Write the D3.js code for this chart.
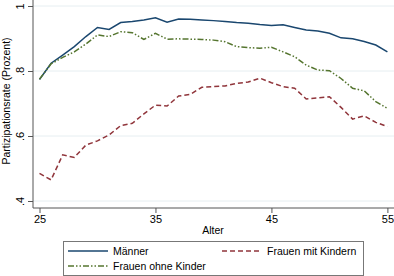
<!DOCTYPE html>
<html>
<head>
<meta charset="utf-8">
<script src="https://cdn.jsdelivr.net/npm/d3@7"></script>
<style>
  body { margin: 0; background: #fff; }
  svg { display: block; font-family: "Liberation Sans", Arial, sans-serif; }
</style>
</head>
<body>
<svg id="chart" width="394" height="276"></svg>
<script>
const ages = d3.range(25, 56);
const maenner = [0.774, 0.824, 0.849, 0.875, 0.906, 0.934, 0.928, 0.949, 0.952, 0.957, 0.964,
  0.950, 0.960, 0.959, 0.957, 0.955, 0.952, 0.949, 0.947, 0.943, 0.940, 0.942, 0.934, 0.926,
  0.923, 0.916, 0.902, 0.899, 0.891, 0.880, 0.859];
const frauenMitKindern = [0.485, 0.465, 0.542, 0.534, 0.572, 0.585, 0.603, 0.632, 0.639, 0.668,
  0.695, 0.692, 0.723, 0.728, 0.750, 0.752, 0.754, 0.762, 0.766, 0.778, 0.764, 0.752, 0.747,
  0.714, 0.717, 0.721, 0.688, 0.652, 0.662, 0.642, 0.629];
const frauenOhneKinder = [0.775, 0.822, 0.842, 0.859, 0.883, 0.911, 0.906, 0.921, 0.918, 0.897,
  0.916, 0.898, 0.899, 0.898, 0.897, 0.895, 0.890, 0.875, 0.872, 0.870, 0.873, 0.859, 0.844,
  0.818, 0.803, 0.801, 0.777, 0.747, 0.739, 0.706, 0.685];
const xTicks = [25, 35, 45, 55];
const yTicks = [0.4, 0.6, 0.8, 1.0];
const yTickLabels = [".4", ".6", ".8", "1"];
const seriesNames = ["Männer", "Frauen mit Kindern", "Frauen ohne Kinder"];

const colors = ["#1a476f", "#90353b", "#55752f"];
const dashes = [null, "5,3", "6,2,1.5,2,1.5,2"];

const svg = d3.select("#chart");
const x = d3.scaleLinear().domain([25, 55]).range([39.5, 387.4]);
const y = d3.scaleLinear().domain([0.4, 1.0]).range([201, 6]);

const axisX = 33, axisY = 208;

// gridlines
svg.append("g").selectAll("line").data(yTicks).join("line")
  .attr("x1", axisX).attr("x2", 394)
  .attr("y1", d => y(d)).attr("y2", d => y(d))
  .attr("stroke", "#e6eef1").attr("stroke-width", 1);

// y axis
const yAxis = svg.append("g").attr("transform", `translate(${axisX},0)`)
  .call(d3.axisLeft(y).tickValues(yTicks).tickSize(5).tickFormat((d, i) => yTickLabels[i]));
yAxis.select(".domain").attr("d", `M0,0V${axisY}`).attr("stroke", "#555");
yAxis.selectAll(".tick line").attr("stroke", "#555");
yAxis.selectAll(".tick text")
  .attr("x", 0).attr("dy", 0)
  .attr("transform", "translate(-9,0) rotate(-90)")
  .attr("text-anchor", "middle")
  .attr("font-size", 11).attr("fill", "#000")
  .attr("font-family", "Liberation Sans, Arial, sans-serif");

// x axis
const xAxis = svg.append("g").attr("transform", `translate(0,${axisY})`)
  .call(d3.axisBottom(x).tickValues(xTicks).tickSize(5).tickFormat(d3.format("d")));
xAxis.select(".domain").attr("d", `M${axisX},0H394`).attr("stroke", "#555");
xAxis.selectAll(".tick line").attr("stroke", "#555");
xAxis.selectAll(".tick text").attr("y", 7).attr("dy", "0.71em")
  .attr("font-size", 11).attr("fill", "#000")
  .attr("font-family", "Liberation Sans, Arial, sans-serif");

// axis titles
svg.append("text").attr("x", 213).attr("y", 234).attr("text-anchor", "middle")
  .attr("font-size", 10.5).text("Alter");
svg.append("text").attr("transform", `translate(10,101) rotate(-90)`)
  .attr("text-anchor", "middle").attr("font-size", 10.5).text("Partizipationsrate (Prozent)");

// lines
const allSeries = [maenner, frauenMitKindern, frauenOhneKinder];
const line = d3.line().x((d, i) => x(ages[i])).y(d => y(d));
allSeries.forEach((s, k) => {
  svg.append("path").datum(s)
    .attr("d", line)
    .attr("fill", "none")
    .attr("stroke", colors[k])
    .attr("stroke-width", 1.5)
    .attr("stroke-dasharray", dashes[k]);
});

// legend
const lg = svg.append("g");
lg.append("rect").attr("x", 63.5).attr("y", 241.5).attr("width", 300).attr("height", 34)
  .attr("fill", "#fff").attr("stroke", "#777").attr("stroke-width", 1);
const legendPos = [[68, 251], [222, 251], [68, 266]];
seriesNames.forEach((name, k) => {
  const [lx, ly] = legendPos[k];
  lg.append("line").attr("x1", lx).attr("x2", lx + 40).attr("y1", ly).attr("y2", ly)
    .attr("stroke", colors[k]).attr("stroke-width", 1.5).attr("stroke-dasharray", dashes[k]);
  lg.append("text").attr("x", lx + 45).attr("y", ly + 4).attr("font-size", 10.5).text(name);
});
</script>
</body>
</html>
